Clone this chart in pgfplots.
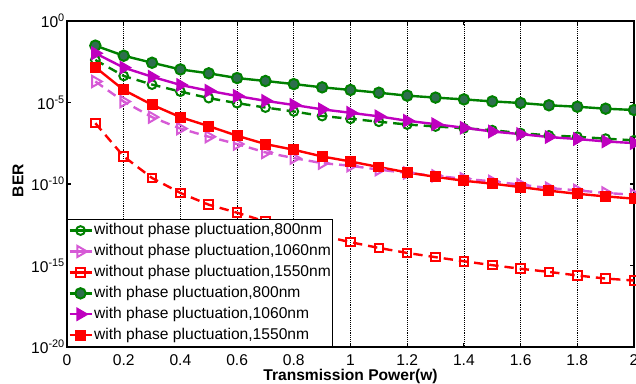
\documentclass[border=0pt]{standalone}
\usepackage{fontspec}
\setmainfont{Liberation Sans}
\usepackage{pgfplots}
\pgfplotsset{compat=1.18}
\definecolor{cgreen}{RGB}{0,128,0}
\definecolor{cgreenfill}{RGB}{46,110,78}
\definecolor{cmag}{RGB}{191,0,191}
\definecolor{cmaglight}{RGB}{214,90,214}
\definecolor{cred}{RGB}{255,0,0}
\begin{document}
\begin{tikzpicture}[font=\fontsize{11.7}{14}\selectfont]
\begin{axis}[
  at={(0,0)}, anchor=south west,
  scale only axis, width=425.25pt, height=244.5pt,
  xmin=0, xmax=2, ymin=1e-20, ymax=1, ymode=log,
  xtick={0,0.2,0.4,0.6,0.8,1,1.2,1.4,1.6,1.8,2},
  ytick={1e-20,1e-15,1e-10,1e-5,1},
  yticklabels={10\textsuperscript{-20},10\textsuperscript{-15},10\textsuperscript{-10},10\textsuperscript{-5},10\textsuperscript{0}},
  yminorticks=false,
  xmajorgrids, major grid style={densely dotted, black, line width=0.5pt},
  axis line style={line width=0.9pt},
  every tick/.style={black, line width=0.8pt}, major tick length=3pt,
  /pgf/number format/assume math mode=true,
  xticklabel style={yshift=-2pt},
  yticklabel style={xshift=2pt},
  xlabel={\bfseries Transmission Power(w)},
  ylabel={\bfseries BER},
  xlabel style={at={(axis description cs:0.5,-0.089)}, anchor=center},
  ylabel style={at={(axis description cs:-0.0864,0.51)}, anchor=center},
  legend cell align=left,
  legend style={at={(0,0)}, anchor=south west, draw=black, line width=1pt, fill=white,
    inner sep=0.5pt, row sep=0pt,
    nodes={inner xsep=1pt, inner ysep=2.1pt, text height=9pt, text depth=2.5pt}},
  legend image code/.code={\draw[mark repeat=2,mark phase=2,#1,solid] plot coordinates {(0pt,0pt) (8.25pt,0pt) (16.5pt,0pt)};},
]
% without phase fluctuation, 800nm
\addplot[cgreen, line width=1.8pt, dash pattern=on 7pt off 4.5pt, mark=o, mark size=3.3pt,
  mark options={solid, line width=1.5pt}] coordinates {
(0.1,4.07e-3)(0.2,4.27e-4)(0.3,1.26e-4)(0.4,4.68e-5)(0.5,1.86e-5)
(0.6,9.12e-6)(0.7,4.90e-6)(0.8,2.82e-6)(0.9,1.48e-6)(1.0,1.00e-6)
(1.1,6.61e-7)(1.2,4.47e-7)(1.3,3.39e-7)(1.4,2.63e-7)(1.5,2.00e-7)
(1.6,1.32e-7)(1.7,9.55e-8)(1.8,7.94e-8)(1.9,6.03e-8)(2.0,4.79e-8)};
\addlegendentry{without phase pluctuation,800nm}
% without, 1060nm
\addplot[cmaglight, line width=1.8pt, dash pattern=on 7pt off 4.5pt, mark=triangle, mark size=4.8pt,
  mark options={solid, rotate=-90, line width=1.5pt}] coordinates {
(0.1,1.95e-4)(0.2,1.15e-5)(0.3,1.26e-6)(0.4,2.51e-7)(0.5,7.94e-8)
(0.6,2.82e-8)(0.7,8.71e-9)(0.8,3.89e-9)(0.9,1.91e-9)(1.0,1.32e-9)
(1.1,7.59e-10)(1.2,4.79e-10)(1.3,3.16e-10)(1.4,2.09e-10)(1.5,1.45e-10)
(1.6,9.12e-11)(1.7,5.62e-11)(1.8,4.07e-11)(1.9,2.82e-11)(2.0,2.19e-11)};
\addlegendentry{without phase pluctuation,1060nm}
% without, 1550nm
\addplot[cred, line width=1.8pt, dash pattern=on 7pt off 4.5pt, mark=square, mark size=3.2pt,
  mark options={solid, line width=1.5pt}] coordinates {
(0.1,5.37e-7)(0.2,4.90e-9)(0.3,2.34e-10)(0.4,2.82e-11)(0.5,5.37e-12)
(0.6,1.74e-12)(0.7,5.01e-13)(0.8,1.78e-13)(0.9,6.76e-14)(1.0,2.69e-14)
(1.1,1.20e-14)(1.2,5.89e-15)(1.3,3.24e-15)(1.4,1.82e-15)(1.5,1.05e-15)
(1.6,6.31e-16)(1.7,4.07e-16)(1.8,2.45e-16)(1.9,1.58e-16)(2.0,1.20e-16)};
\addlegendentry{without phase pluctuation,1550nm}
% with, 800nm
\addplot[cgreen, line width=1.8pt, mark=*, mark size=3.9pt,
  mark options={fill=cgreenfill, draw=cgreen, line width=1.5pt}] coordinates {
(0.1,3.09e-2)(0.2,7.41e-3)(0.3,2.75e-3)(0.4,1.07e-3)(0.5,6.17e-4)
(0.6,3.16e-4)(0.7,2.09e-4)(0.8,1.35e-4)(0.9,8.51e-5)(1.0,5.89e-5)
(1.1,3.98e-5)(1.2,2.63e-5)(1.3,2.00e-5)(1.4,1.55e-5)(1.5,1.17e-5)
(1.6,9.33e-6)(1.7,6.76e-6)(1.8,5.50e-6)(1.9,4.17e-6)(2.0,3.47e-6)};
\addlegendentry{with phase pluctuation,800nm}
% with, 1060nm
\addplot[cmag, line width=1.8pt, mark=triangle*, mark size=5.2pt,
  mark options={rotate=-90, fill=cmag, draw=cmag, line width=1pt}] coordinates {
(0.1,1.05e-2)(0.2,1.38e-3)(0.3,3.80e-4)(0.4,1.20e-4)(0.5,5.25e-5)
(0.6,2.51e-5)(0.7,1.26e-5)(0.8,7.08e-6)(0.9,3.80e-6)(1.0,2.34e-6)
(1.1,1.41e-6)(1.2,7.59e-7)(1.3,4.68e-7)(1.4,2.82e-7)(1.5,1.66e-7)
(1.6,1.15e-7)(1.7,7.59e-8)(1.8,5.75e-8)(1.9,4.07e-8)(2.0,3.24e-8)};
\addlegendentry{with phase pluctuation,1060nm}
% with, 1550nm
\addplot[cred, line width=1.8pt, mark=square*, mark size=3.6pt,
  mark options={fill=cred, draw=cred, line width=1pt}] coordinates {
(0.1,1.45e-3)(0.2,5.89e-5)(0.3,7.24e-6)(0.4,1.26e-6)(0.5,3.55e-7)
(0.6,9.12e-8)(0.7,2.82e-8)(0.8,1.26e-8)(0.9,4.90e-9)(1.0,2.40e-9)
(1.1,1.10e-9)(1.2,5.13e-10)(1.3,2.75e-10)(1.4,1.58e-10)(1.5,1.05e-10)
(1.6,6.46e-11)(1.7,3.89e-11)(1.8,2.51e-11)(1.9,1.74e-11)(2.0,1.26e-11)};
\addlegendentry{with phase pluctuation,1550nm}
\end{axis}
\pgfresetboundingbox
\path[use as bounding box] ([xshift=-50.25pt,yshift=-27pt]current axis.south west) rectangle ([xshift=1.5pt,yshift=15.75pt]current axis.north east);
\end{tikzpicture}
\end{document}
